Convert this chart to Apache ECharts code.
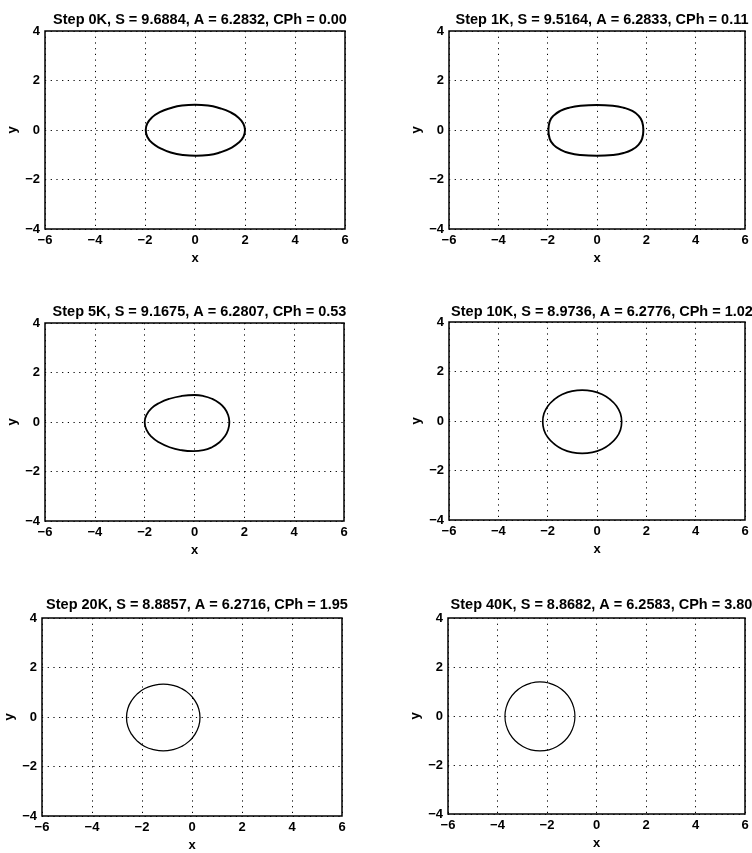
<!DOCTYPE html>
<html>
<head>
<meta charset="utf-8">
<script src="https://cdn.jsdelivr.net/npm/echarts@6/dist/echarts.min.js"></script>
<style>
html,body{margin:0;padding:0;background:#fff;}
#chart{width:752px;height:853px;}
</style>
</head>
<body>
<div id="chart"></div>
<script>
// Panel titles
const titles = [
  'Step 0K, S = 9.6884, A = 6.2832, CPh = 0.00',
  'Step 1K, S = 9.5164, A = 6.2833, CPh = 0.11',
  'Step 5K, S = 9.1675, A = 6.2807, CPh = 0.53',
  'Step 10K, S = 8.9736, A = 6.2776, CPh = 1.02',
  'Step 20K, S = 8.8857, A = 6.2716, CPh = 1.95',
  'Step 40K, S = 8.8682, A = 6.2583, CPh = 3.80'
];

// Axis ranges / ticks
const xRange = [-6, 6, 2];
const yRange = [-4, 4, 2];

// Curve points [x, y]
const curve0K = [
  [2.00,0.00],[1.93,0.26],[1.73,0.51],[1.41,0.72],[1.00,0.88],[0.52,0.99],[0.00,1.02],
  [-0.52,0.99],[-1.00,0.88],[-1.41,0.72],[-1.72,0.51],[-1.91,0.26],[-1.97,0.00],
  [-1.91,-0.27],[-1.71,-0.53],[-1.38,-0.74],[-0.97,-0.91],[-0.48,-1.01],[0.04,-1.04],
  [0.55,-1.01],[1.02,-0.90],[1.43,-0.73],[1.74,-0.52],[1.94,-0.27],[2.00,0.00]
];
const curve1K = [
  [1.88,0.00],[1.83,0.34],[1.68,0.58],[1.43,0.77],[1.08,0.90],[0.64,0.98],[0.00,1.01],
  [-0.67,0.98],[-1.13,0.90],[-1.49,0.77],[-1.76,0.58],[-1.92,0.34],[-1.97,0.00],
  [-1.92,-0.35],[-1.76,-0.60],[-1.49,-0.79],[-1.13,-0.93],[-0.67,-1.01],[0.00,-1.04],
  [0.64,-1.01],[1.08,-0.93],[1.43,-0.79],[1.68,-0.60],[1.83,-0.35],[1.88,0.00]
];
const curve5K = [
  [1.40,0.00],[1.35,0.28],[1.21,0.55],[0.99,0.77],[0.70,0.94],[0.36,1.05],[0.00,1.09],
  [-0.52,1.05],[-1.00,0.94],[-1.41,0.77],[-1.73,0.55],[-1.93,0.28],[-2.00,0.00],
  [-1.93,-0.31],[-1.73,-0.59],[-1.41,-0.83],[-1.00,-1.02],[-0.52,-1.14],[-0.05,-1.18],
  [0.36,-1.14],[0.70,-1.02],[0.99,-0.83],[1.21,-0.59],[1.35,-0.31],[1.40,0.00]
];
const curve10K = [
  [1.00,-0.03],[0.95,0.30],[0.79,0.61],[0.53,0.87],[0.20,1.08],[-0.19,1.21],[-0.60,1.25],
  [-1.01,1.21],[-1.40,1.08],[-1.73,0.87],[-1.99,0.61],[-2.15,0.30],[-2.20,-0.03],
  [-2.15,-0.36],[-1.99,-0.67],[-1.73,-0.93],[-1.40,-1.14],[-1.01,-1.27],[-0.60,-1.31],
  [-0.19,-1.27],[0.20,-1.14],[0.53,-0.93],[0.79,-0.67],[0.95,-0.36],[1.00,-0.03]
];
const curve20K = [
  [0.32,-0.02],[0.27,0.33],[0.12,0.655],[-0.11,0.935],[-0.42,1.15],[-0.77,1.28],[-1.15,1.33],
  [-1.53,1.28],[-1.89,1.15],[-2.19,0.935],[-2.42,0.655],[-2.57,0.33],[-2.62,-0.02],
  [-2.57,-0.37],[-2.42,-0.695],[-2.19,-0.975],[-1.89,-1.19],[-1.53,-1.32],[-1.15,-1.37],
  [-0.77,-1.32],[-0.42,-1.19],[-0.11,-0.975],[0.12,-0.695],[0.27,-0.37],[0.32,-0.02]
];
const curve40K = [
  [-0.87,-0.015],[-0.92,0.35],[-1.06,0.69],[-1.285,0.98],[-1.58,1.205],[-1.92,1.345],[-2.285,1.395],
  [-2.65,1.345],[-2.99,1.205],[-3.285,0.98],[-3.51,0.69],[-3.65,0.35],[-3.70,-0.015],
  [-3.65,-0.38],[-3.51,-0.72],[-3.285,-1.01],[-2.99,-1.235],[-2.65,-1.38],[-2.285,-1.425],
  [-1.92,-1.38],[-1.58,-1.235],[-1.285,-1.01],[-1.06,-0.72],[-0.92,-0.38],[-0.87,-0.015]
];
const curves = [curve0K, curve1K, curve5K, curve10K, curve20K, curve40K];

// layout (pixels)
const grids = [
  {left:45, top:31, width:300, height:198},
  {left:449, top:31, width:296, height:198},
  {left:45, top:323, width:299, height:198},
  {left:449, top:322, width:296, height:198},
  {left:42, top:618, width:300, height:198},
  {left:448, top:618, width:297, height:196}
];
const titleY = [7, 7, 299, 299, 592, 592];
const lineWidths = [2, 2, 1.8, 1.7, 1.3, 1.2];

const FONT = 'Liberation Sans, Arial, Helvetica, sans-serif';
const fmt = v => String(v).replace('-', '\u2212');

const option = {
  backgroundColor: '#fff',
  animation: false,
  title: titles.map((t, i) => ({
    text: t,
    left: grids[i].left + grids[i].width / 2,
    top: titleY[i],
    textAlign: 'center',
    textStyle: {fontFamily: FONT, fontSize: 14.5, fontWeight: 'bold', color: '#000'}
  })),
  grid: grids.map(g => Object.assign({show: true, borderColor: '#000', borderWidth: 1.5, backgroundColor: 'transparent'}, g)),
  xAxis: grids.map((g, i) => ({
    type: 'value', gridIndex: i, min: xRange[0], max: xRange[1], interval: xRange[2],
    name: 'x', nameLocation: 'middle', nameGap: 23,
    nameTextStyle: {fontFamily: FONT, fontSize: 13, fontWeight: 'bold', color: '#000'},
    axisLine: {show: false}, axisTick: {show: false},
    axisLabel: {fontFamily: FONT, fontSize: 13, fontWeight: 'bold', color: '#000', margin: 5, formatter: fmt},
    splitLine: {show: true, lineStyle: {color: '#000', width: 1, type: [1.2, 4.5]}}
  })),
  yAxis: grids.map((g, i) => ({
    type: 'value', gridIndex: i, min: yRange[0], max: yRange[1], interval: yRange[2],
    name: 'y', nameLocation: 'middle', nameGap: 26, nameRotate: 90,
    nameTextStyle: {fontFamily: FONT, fontSize: 13, fontWeight: 'bold', color: '#000'},
    axisLine: {show: false}, axisTick: {show: false},
    axisLabel: {fontFamily: FONT, fontSize: 13, fontWeight: 'bold', color: '#000', margin: 5, formatter: fmt},
    splitLine: {show: true, lineStyle: {color: '#000', width: 1, type: [1.2, 4.5]}}
  })),
  series: curves.map((c, i) => ({
    type: 'line', xAxisIndex: i, yAxisIndex: i, data: c,
    smooth: 0.5, showSymbol: false, symbol: 'none',
    lineStyle: {color: '#000', width: lineWidths[i]}
  }))
};

const chart = echarts.init(document.getElementById('chart'), null, {renderer: 'canvas'});
chart.setOption(option);
</script>
</body>
</html>
